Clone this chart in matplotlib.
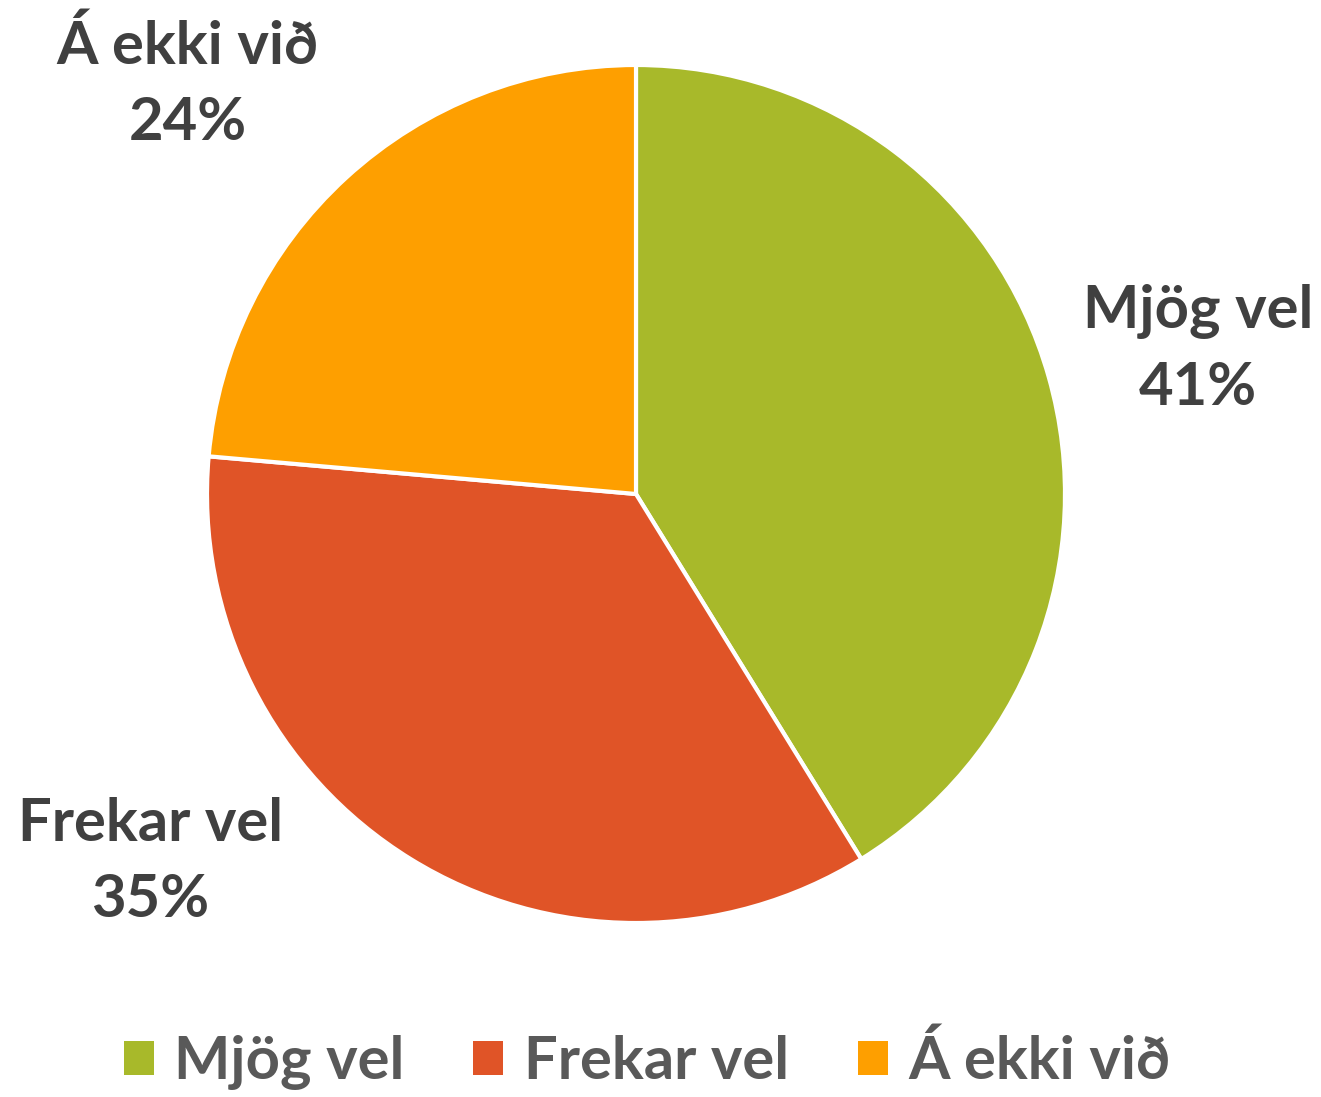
import matplotlib
matplotlib.use("Agg")
import matplotlib.pyplot as plt
from matplotlib.patches import Patch

categories = ["Mjög vel", "Frekar vel", "Á ekki við"]
shares = [41.2, 35.2, 23.6]
colors = ["#A8B92A", "#E05427", "#FE9F00"]

# label anchor points (figure fraction) matching the reference layout
label_pos = [(0.907, 0.681), (0.114, 0.214), (0.142, 0.923)]

plt.rcParams["font.family"] = ["Lato", "DejaVu Sans"]

fig = plt.figure(figsize=(13.21, 10.97), dpi=100)
ax = fig.add_axes([207 / 1321, 1 - 923 / 1097, 858 / 1321, 858 / 1097])

ax.pie(
    shares,
    colors=colors,
    startangle=90,
    counterclock=False,
    wedgeprops=dict(edgecolor="white", linewidth=3),
)
ax.set_xlim(-1, 1)
ax.set_ylim(-1, 1)
ax.set_aspect("equal")

for name, val, (x, y) in zip(categories, shares, label_pos):
    fig.text(x, y, f"{name}\n{val:.0f}%", ha="center", va="center",
             fontsize=43, fontweight="bold", color="#404040", linespacing=1.5)

handles = [Patch(facecolor=c, edgecolor="none") for c in colors]
fig.legend(
    handles, categories,
    loc="center", bbox_to_anchor=(0.49, 1 - 1062 / 1097),
    ncol=3, frameon=False,
    prop=dict(size=43, weight="bold"),
    labelcolor="#595959",
    handlelength=0.5, handleheight=0.5, handletextpad=0.35,
    columnspacing=1.15,
)

fig.savefig("out.png", dpi=100)
plt.close(fig)
